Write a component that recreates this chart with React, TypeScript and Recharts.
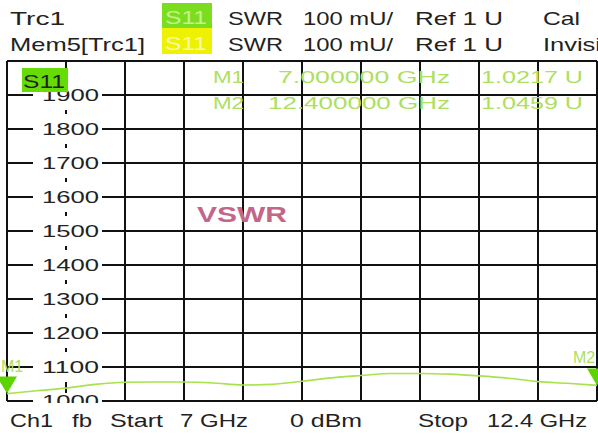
import { ComposedChart, Line, Scatter, XAxis, YAxis, CartesianGrid } from "recharts"

// S11 SWR trace, values in mU (1000 = 1.000 U)
const FREQ_GHZ = [7.0, 7.27, 7.54, 7.81, 8.08, 8.35, 8.62, 8.89, 9.16, 9.43, 9.7, 9.97, 10.24, 10.51, 10.78, 11.05, 11.32, 11.59, 11.86, 12.13, 12.4]
const SWR_MU = [1021.7, 1030, 1038, 1049, 1055, 1056, 1056, 1053, 1047, 1049, 1058, 1068, 1075, 1081, 1081, 1079, 1074, 1067, 1057, 1052, 1045.9]

const X_GRID = [7, 7.54, 8.08, 8.62, 9.16, 9.7, 10.24, 10.78, 11.32, 11.86, 12.4]
const Y_TICKS = [1000, 1100, 1200, 1300, 1400, 1500, 1600, 1700, 1800, 1900, 2000]

const MARKER_NAMES = ["M1", "M2"]
const MARKER_FREQ = [7, 12.4]
const MARKER_SWR = [1021.7, 1045.9]

const HEADER_ROW1 = ["Trc1", "SWR", "100 mU/", "Ref 1 U", "Cal"]
const HEADER_ROW2 = ["Mem5[Trc1]", "SWR", "100 mU/", "Ref 1 U", "Invisi"]
const FOOTER = ["Ch1", "fb", "Start", "7 GHz", "0 dBm", "Stop", "12.4 GHz"]

const W = 598
const H = 435
const FONT = "'Liberation Sans', Arial, sans-serif"
const TRACE = "#a8e24c"
const MARK_TXT = "#ace060"

const traceData = FREQ_GHZ.map((f, i) => ({ f, v: SWR_MU[i] }))
const markerData = MARKER_FREQ.map((f, i) => ({ f, v: MARKER_SWR[i], name: MARKER_NAMES[i] }))

function renderSwrTick(props: any) {
  const { y, payload } = props
  if (payload.value >= 2000) return <g />
  // the lowest label box stays below the trace
  const top = payload.value === 1000 ? y - 8 : y - 15
  return (
    <g>
      <rect x={33} y={top} width={69} height={y + 15 - top} fill="#fff" />
      <text x={42} y={y + 6} fontSize={16} fill="#222" fontFamily={FONT} textLength={57} lengthAdjust="spacingAndGlyphs">
        {payload.value}
      </text>
    </g>
  )
}

function MarkerShape({ cx, cy, payload }: any) {
  const left = cx < W / 2
  return (
    <g>
      <polygon points={`${cx - 10},${cy - 17} ${cx + 10},${cy - 17} ${cx},${cy}`} fill="#5cd400" />
      <text x={left ? cx + 5 : cx - 13} y={cy - 22} textAnchor="middle" fontSize={16} fill={MARK_TXT} fontFamily={FONT}>
        {payload.name}
      </text>
    </g>
  )
}

function T({ x, y, w, size = 19, fill = "#222", children, weight }: any) {
  return (
    <text x={x} y={y} fontSize={size} fill={fill} fontFamily={FONT} fontWeight={weight} textLength={w} lengthAdjust="spacingAndGlyphs">
      {children}
    </text>
  )
}

export default function App() {
  const hx = [10, 228, 303, 415, 543]
  const hw1 = [55, 55, 90, 88, 37]
  const hw2 = [135, 55, 90, 88, 58]
  const fx = [10, 72, 110, 180, 290, 418, 487]
  const fw = [43, 20, 53, 68, 72, 50, 100]
  return (
    <div style={{ position: "absolute", left: 0, top: 0, width: W, height: H, background: "#fff" }}>
      <ComposedChart
        width={W}
        height={H}
        data={traceData}
        margin={{ top: 61, right: 1, bottom: 34, left: 7 }}
      >
        <CartesianGrid stroke="#111" strokeWidth={2} />
        <XAxis type="number" dataKey="f" domain={[7, 12.4]} ticks={X_GRID} hide />
        <YAxis
          type="number"
          domain={[1000, 2000]}
          ticks={Y_TICKS}
          width={60}
          mirror
          axisLine={false}
          tickLine={false}
          tick={renderSwrTick}
          interval={0}
        />
        <Line
          type="monotone"
          dataKey="v"
          stroke={TRACE}
          strokeWidth={1.6}
          dot={false}
          isAnimationActive={false}
        />
        <Scatter data={markerData} dataKey="v" shape={<MarkerShape />} isAnimationActive={false} />
      </ComposedChart>

      <svg width={W} height={H} style={{ position: "absolute", left: 0, top: 0, pointerEvents: "none" }}>
        {/* header */}
        <rect x={162} y={3} width={50} height={25} fill="#7ade1e" />
        <rect x={162} y={28} width={50} height={26} fill="#eef200" />
        <T x={165} y={24} w={42} fill="#c6f28e">S11</T>
        <T x={165} y={50} w={42} fill="#f8f8a8">S11</T>
        {HEADER_ROW1.map((s, i) => (
          <T key={"a" + i} x={hx[i]} y={25} w={hw1[i]}>{s}</T>
        ))}
        {HEADER_ROW2.map((s, i) => (
          <T key={"b" + i} x={hx[i]} y={51} w={hw2[i]}>{s}</T>
        ))}

        {/* trace label in plot */}
        <rect x={22} y={68} width={46} height={24} fill="#66dc06" />
        <T x={23} y={88} w={42} size={19}>S11</T>

        {/* marker readout */}
        {markerData.map((m, i) => (
          <g key={m.name}>
            <T x={213} y={83 + i * 26} w={31} size={17} fill={MARK_TXT}>{m.name}</T>
            <text x={450} y={83 + i * 26} fontSize={17} fill={MARK_TXT} fontFamily={FONT} textAnchor="end" textLength={i === 0 ? 172 : 182} lengthAdjust="spacingAndGlyphs">
              {m.f.toFixed(6) + " GHz"}
            </text>
            <T x={481} y={83 + i * 26} w={102} size={17} fill={MARK_TXT}>{(m.v / 1000).toFixed(4) + " U"}</T>
          </g>
        ))}

        <T x={197} y={222} w={90} size={22} fill="#c2668a" weight="bold">VSWR</T>

        {/* footer */}
        <rect x={0} y={403} width={W} height={H - 403} fill="#fff" />
        {FOOTER.map((s, i) => (
          <T key={"f" + i} x={fx[i]} y={427} w={fw[i]}>{s}</T>
        ))}
      </svg>
    </div>
  )
}
